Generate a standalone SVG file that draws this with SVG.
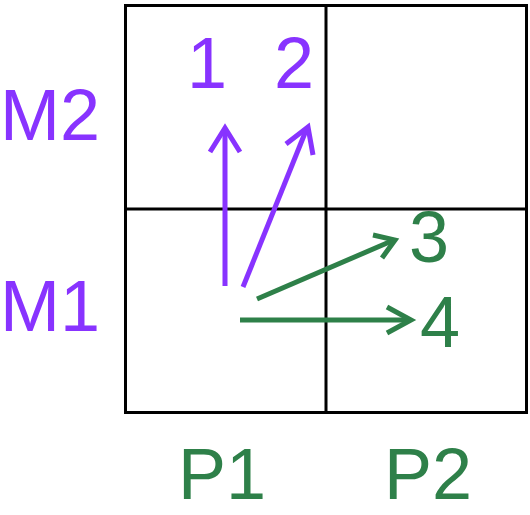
<svg xmlns="http://www.w3.org/2000/svg" width="530" height="515" viewBox="0 0 530 515">
<style>
.t{font-family:"Liberation Sans",Arial,sans-serif;font-size:72px;text-anchor:middle}
.s{text-anchor:start}
.p{fill:#8833FF}.g{fill:#2E8049}
.ap{stroke:#8833FF;stroke-width:5;fill:none}
.ag{stroke:#2E8049;stroke-width:5;fill:none}
.grid{stroke:#000;stroke-width:3;fill:none}
</style>
<rect width="530" height="515" fill="#fff"/>
<g id="grid">
<rect class="grid" x="125.5" y="5.5" width="401" height="407"/>
<line class="grid" x1="326" y1="5" x2="326" y2="413"/>
<line class="grid" x1="125" y1="209" x2="527" y2="209"/>
</g>
<g id="labels">
<text class="t p" x="207" y="88">1</text>
<text class="t p" x="294" y="88">2</text>
<text class="t s p" x="0" y="140">M2</text>
<text class="t s p" x="0" y="331">M1</text>
<text class="t g" x="429" y="262">3</text>
<text class="t g" x="440" y="347">4</text>
<text class="t g" x="222" y="499">P1</text>
<text class="t g" x="428" y="499">P2</text>
</g>
<g id="connectors">
<line class="ap" x1="225" y1="286" x2="225" y2="128"/>
<polyline class="ap" points="210,152 225,128 240,152"/>
<line class="ap" x1="243" y1="287" x2="307" y2="128"/>
<polyline class="ap" points="286,144 308,127 313,155"/>
<line class="ag" x1="257" y1="299" x2="394" y2="240"/>
<polyline class="ag" points="373,235 395,240 382,258"/>
<line class="ag" x1="240" y1="320" x2="411" y2="320"/>
<polyline class="ag" points="387,307 411,320 387,333"/>
</g>
</svg>
